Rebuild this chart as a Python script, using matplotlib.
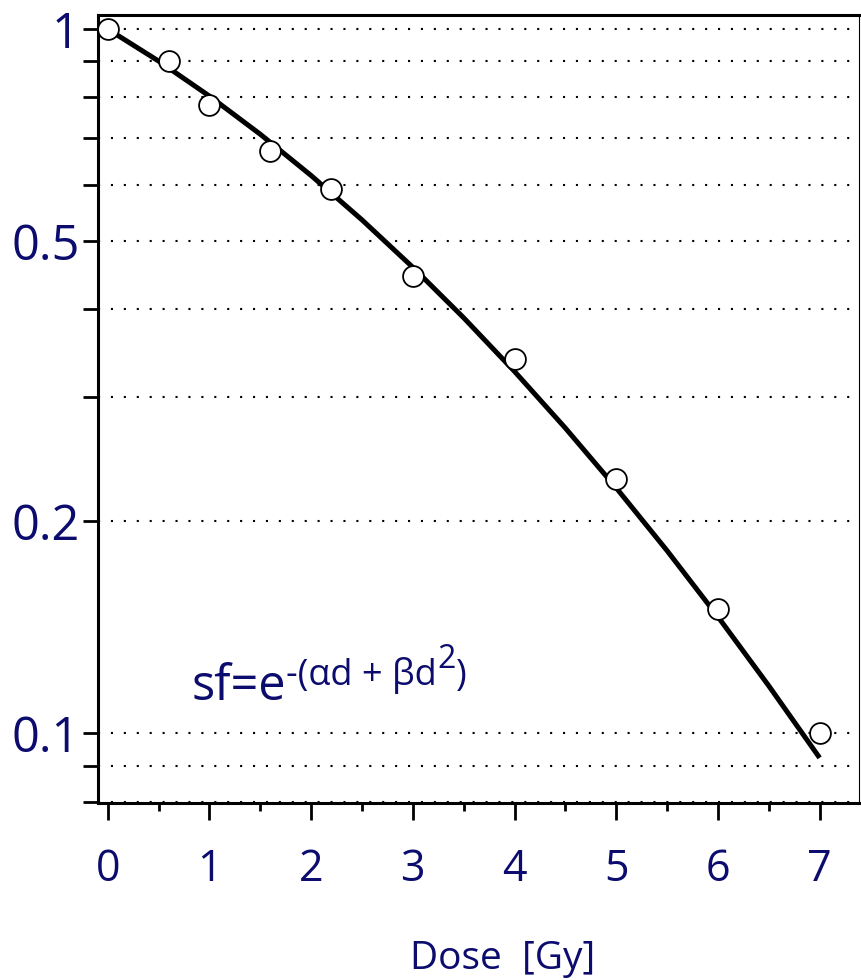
import matplotlib
matplotlib.use("Agg")
import matplotlib.pyplot as plt
from matplotlib.transforms import offset_copy

# measured survival fractions
dose = [0, 0.6, 1, 1.6, 2.2, 3, 4, 5, 6, 7]
sf_measured = [1.0, 0.901, 0.780, 0.671, 0.593, 0.446, 0.340, 0.230, 0.150, 0.100]

# fitted curve, every 0.5 Gy
dose_fit = [0, 0.5, 1, 1.5, 2, 2.5, 3, 3.5, 4, 4.5, 5, 5.5, 6, 6.5, 7]
sf_fit = [1.0, 0.9007, 0.8032, 0.7090, 0.6195, 0.5359, 0.4589, 0.3891, 0.3265,
          0.2713, 0.2231, 0.1817, 0.1464, 0.1168, 0.0923]

y_grid = [0.08, 0.09, 0.1, 0.2, 0.3, 0.4, 0.5, 0.6, 0.7, 0.8, 0.9, 1.0]
y_labels = {0.1: "0.1", 0.2: "0.2", 0.5: "0.5", 1.0: "1"}
x_major = [0, 1, 2, 3, 4, 5, 6, 7]
x_minor = [0.5, 1.5, 2.5, 3.5, 4.5, 5.5, 6.5]

navy = "#0c0c6e"
plt.rcParams["font.family"] = ["Open Sans", "DejaVu Sans"]

fig = plt.figure(figsize=(8.61, 9.80), dpi=100)
ax = fig.add_axes([0.1135, 0.1809, 0.8845, 0.8041])

ax.set_yscale("log")
ax.set_xlim(-0.098, 7.39)
ax.set_ylim(0.0797, 1.048)

# dotted grid
for v in y_grid:
    ax.axhline(v, color="black", lw=1.5, linestyle=(0, (1, 5.2)), zorder=1)

ax.plot(dose_fit, sf_fit, color="black", lw=3.6, solid_capstyle="butt", zorder=2)
ax.plot(dose, sf_measured, "o", markersize=15, markerfacecolor="white",
        markeredgecolor="black", markeredgewidth=1.3, zorder=3)

ax.set_yticks(y_grid)
ax.set_yticklabels([y_labels.get(v, "") for v in y_grid])
ax.yaxis.set_minor_locator(matplotlib.ticker.NullLocator())
ax.tick_params(axis="y", which="major", length=11, width=2, direction="out",
               labelsize=35, labelcolor=navy, pad=2)

ax.set_xticks(x_major)
ax.set_xticks(x_minor, minor=True)
ax.tick_params(axis="x", which="major", length=12, width=2, direction="out",
               labelsize=31, labelcolor=navy, pad=20)
ax.tick_params(axis="x", which="minor", length=6, width=2, direction="out")

for side in ["left", "bottom", "top"]:
    ax.spines[side].set_linewidth(2.2)
ax.spines["right"].set_linewidth(0.8)

fig.text(503 / 861, 1 - 969 / 980, "Dose  [Gy]", ha="center", va="baseline",
         fontsize=28, color=navy)

# formula, built piece by piece: (text, size, raise in points)
pieces = [("sf=e", 35, 0), ("-(\u03b1d + \u03b2d", 26, 11), ("2", 23, 23), (")", 26, 11)]
renderer = fig.canvas.get_renderer()
x0 = 192 / 861
base = 1 - 700 / 980
dx = 0
for s, size, rise in pieces:
    tr = offset_copy(fig.transFigure, fig=fig, x=dx, y=rise, units="points")
    t = fig.text(x0, base, s, transform=tr, ha="left", va="baseline",
                 fontsize=size, color=navy)
    dx += t.get_window_extent(renderer).width * 72 / fig.dpi

fig.savefig("out.png", dpi=100)
